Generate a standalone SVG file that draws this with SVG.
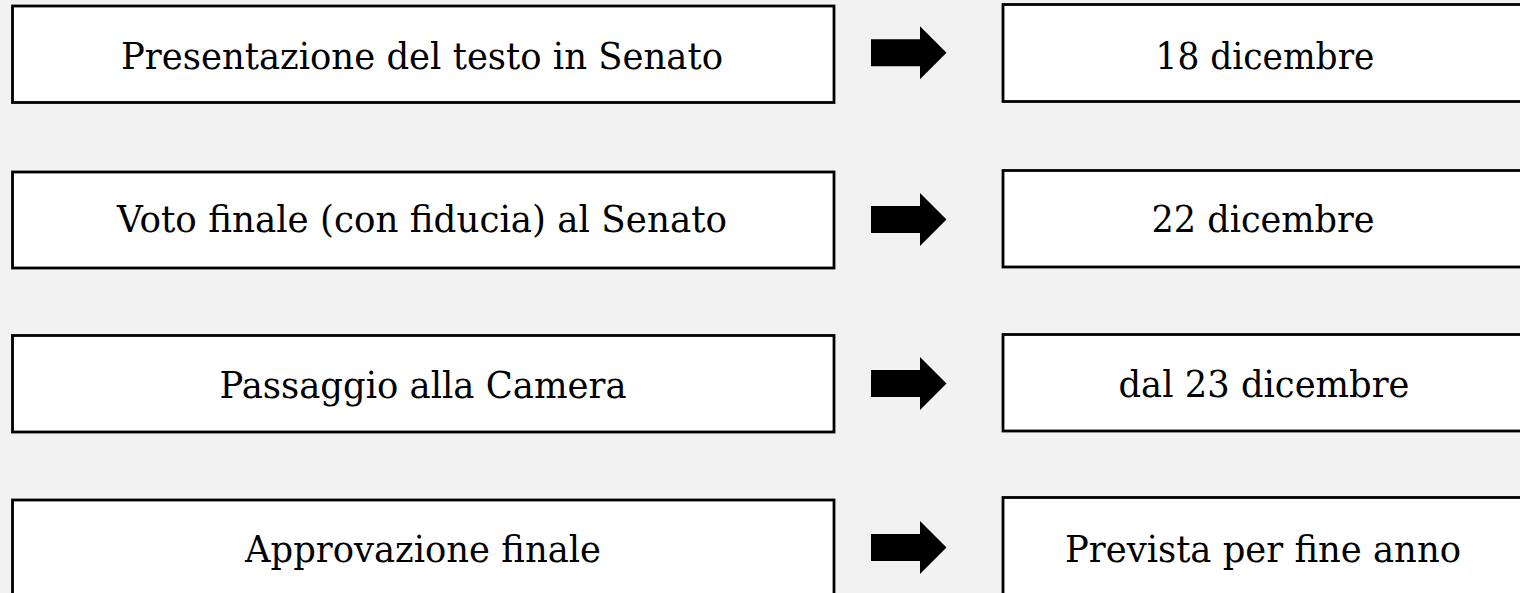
<svg xmlns="http://www.w3.org/2000/svg" width="1520" height="593" viewBox="0 0 1520 593">
<style>
.box{fill:#ffffff;stroke:#000000;stroke-width:2.8}
.t{font-family:"DejaVu Serif","Liberation Serif",serif;font-size:36.5px;fill:#000000;text-anchor:middle}
.arr{fill:#000000}
</style>
<defs>
<path id="arrow" d="M871,-13.5 H920 V-26.5 L946.5,0 L920,26.5 V13.5 H871 Z"/>
</defs>
<rect x="0" y="0" width="1520" height="593" fill="#f2f2f2"/>
<g id="n1"><rect class="box" x="12.5" y="6" width="821.5" height="96.5"/><text class="t" x="422" y="69" textLength="602" lengthAdjust="spacingAndGlyphs">Presentazione del testo in Senato</text></g>
<g id="n2"><rect class="box" x="1003" y="4.5" width="522" height="97"/><text class="t" x="1265" y="69" textLength="219" lengthAdjust="spacingAndGlyphs">18 dicembre</text></g>
<g id="n3"><rect class="box" x="12.5" y="172" width="821.5" height="96"/><text class="t" x="422" y="232" textLength="610" lengthAdjust="spacingAndGlyphs">Voto finale (con fiducia) al Senato</text></g>
<g id="n4"><rect class="box" x="1003" y="170.5" width="522" height="96.5"/><text class="t" x="1263" y="232" textLength="223" lengthAdjust="spacingAndGlyphs">22 dicembre</text></g>
<g id="n5"><rect class="box" x="12.5" y="335.5" width="821.5" height="96.5"/><text class="t" x="423" y="397.5" textLength="407" lengthAdjust="spacingAndGlyphs">Passaggio alla Camera</text></g>
<g id="n6"><rect class="box" x="1003" y="334.5" width="522" height="96.5"/><text class="t" x="1264" y="396.5" textLength="291" lengthAdjust="spacingAndGlyphs">dal 23 dicembre</text></g>
<g id="n7"><rect class="box" x="12.5" y="500" width="821.5" height="96"/><text class="t" x="423" y="562" textLength="356" lengthAdjust="spacingAndGlyphs">Approvazione finale</text></g>
<g id="n8"><rect class="box" x="1003" y="497.5" width="522" height="97"/><text class="t" x="1263" y="562" textLength="396" lengthAdjust="spacingAndGlyphs">Prevista per fine anno</text></g>
<g id="connectors">
<use href="#arrow" class="arr" transform="translate(0,52.7)"/>
<use href="#arrow" class="arr" transform="translate(0,219.5)"/>
<use href="#arrow" class="arr" transform="translate(0,383.5)"/>
<use href="#arrow" class="arr" transform="translate(0,547.5)"/>
</g>
</svg>
